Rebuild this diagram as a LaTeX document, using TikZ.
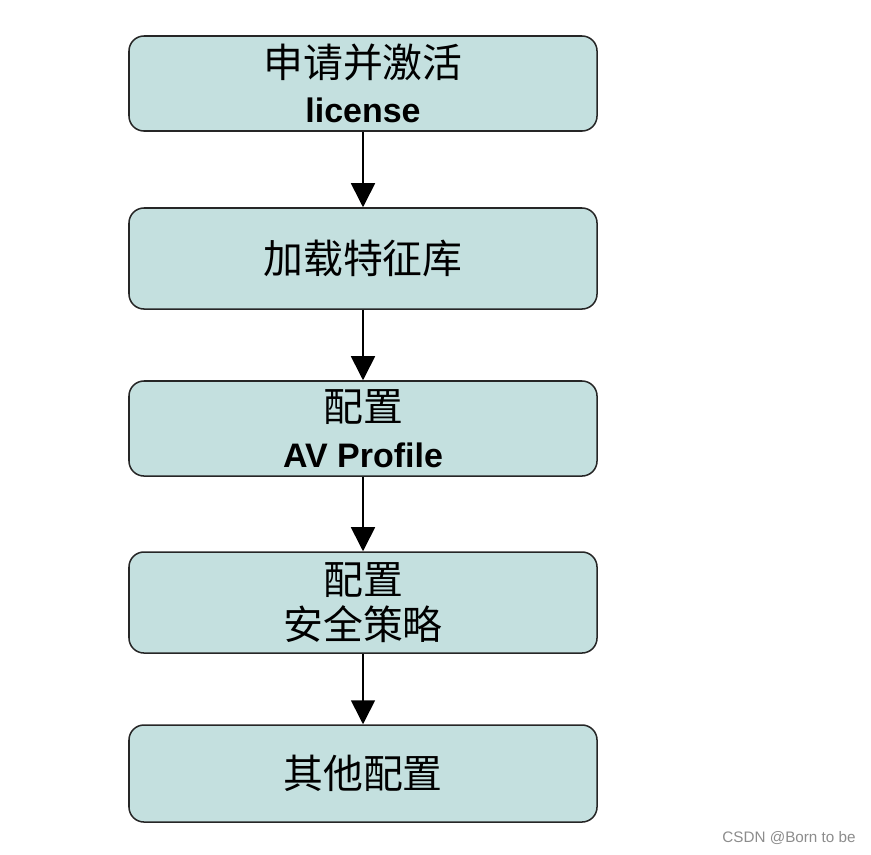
\documentclass[tikz,border=0pt]{standalone}
\usepackage{fontspec}
\setmainfont{Liberation Sans}
\newfontfamily\cjk{Noto Sans CJK SC}
\usetikzlibrary{arrows.meta}
\definecolor{boxfill}{HTML}{C4E0DF}
\tikzset{
  stepbox/.style={draw=black!85, line width=1.3pt, fill=boxfill, rounded corners=0.45cm,
    minimum width=14.04cm, align=center, font=\fontsize{29}{39}\selectfont},
  flow/.style={line width=1.4pt, -{Triangle[length=0.72cm,width=0.72cm]}},
}
\newcommand{\zh}[1]{{\cjk\fontsize{34}{39}\selectfont #1}}
\newcommand{\en}[1]{{\bfseries #1}}
\begin{document}
\begin{tikzpicture}[x=0.03cm,y=-0.03cm]
  \useasboundingbox (0,0) rectangle (871,854);

  \node[stepbox, minimum height=2.85cm] (lic)  at (363,83.5)  {\zh{申请并激活}\\\en{license}};
  \node[stepbox, minimum height=3.03cm] (sig)  at (363,258.5) {\zh{加载特征库}};
  \node[stepbox, minimum height=2.85cm] (av)   at (363,428.5) {\zh{配置}\\\en{AV Profile}};
  \node[stepbox, minimum height=3.03cm] (pol)  at (363,602.5) {\zh{配置}\\\zh{安全策略}};
  \node[stepbox, minimum height=2.91cm] (misc) at (363,773.5) {\zh{其他配置}};

  \draw[flow] (lic)  -- (sig);
  \draw[flow] (sig)  -- (av);
  \draw[flow] (av)   -- (pol);
  \draw[flow] (pol)  -- (misc);

  \node[text=black!45, font=\fontsize{13}{15}\selectfont] (mark) at (789,838) {CSDN @Born to be};
\end{tikzpicture}
\end{document}
